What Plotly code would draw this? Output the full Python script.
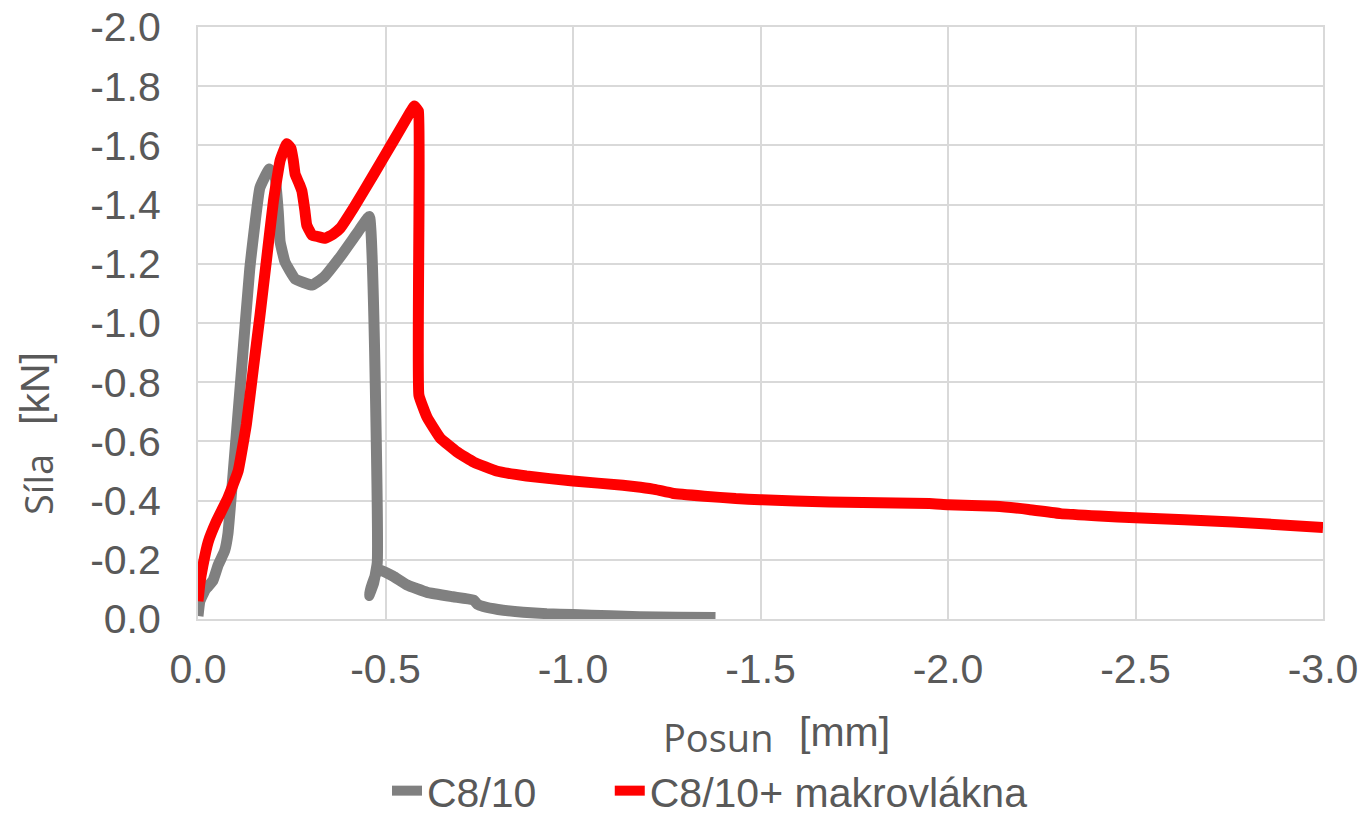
import plotly.graph_objects as go

# ---- data ----
c810_x = [0.0, -0.005, -0.02, -0.04, -0.054, -0.071, -0.08, -0.094, -0.116, -0.138, -0.165,
          -0.19, -0.205, -0.214, -0.219, -0.232, -0.259, -0.304, -0.335, -0.379, -0.424,
          -0.457, -0.478, -0.468, -0.456, -0.465, -0.478, -0.487, -0.52, -0.558, -0.611,
          -0.68, -0.735, -0.745, -0.761, -0.80, -0.867, -0.93, -1.0, -1.1, -1.177, -1.28, -1.38]
c810_y = [-0.01, -0.06, -0.10, -0.13, -0.183, -0.23, -0.29, -0.497, -0.84, -1.183, -1.457,
          -1.52, -1.497, -1.377, -1.274, -1.206, -1.149, -1.128, -1.154, -1.223, -1.303,
          -1.36, -0.19, -0.12, -0.08, -0.12, -0.16, -0.165, -0.145, -0.115, -0.09,
          -0.075, -0.064, -0.05, -0.042, -0.032, -0.023, -0.018, -0.015, -0.011, -0.008, -0.006, -0.005]

mak_x = [0.0, -0.005, -0.013, -0.027, -0.049, -0.08, -0.107, -0.129, -0.147, -0.165, -0.183,
         -0.201, -0.219, -0.237, -0.248, -0.254, -0.259, -0.27, -0.277, -0.285, -0.29, -0.304,
         -0.32, -0.339, -0.36, -0.379, -0.415, -0.469, -0.522, -0.565, -0.577, -0.588, -0.589,
         -0.611, -0.646, -0.69, -0.735, -0.796, -0.876, -1.0, -1.133, -1.18, -1.221, -1.265,
         -1.35, -1.434, -1.5, -1.684, -1.95, -2.0, -2.127, -2.215, -2.30, -2.404, -2.5, -2.76, -3.0]
mak_y = [-0.06, -0.12, -0.18, -0.26, -0.33, -0.41, -0.50, -0.657, -0.84, -1.023, -1.217,
         -1.411, -1.549, -1.606, -1.59, -1.55, -1.503, -1.47, -1.446, -1.38, -1.331, -1.297,
         -1.292, -1.286, -1.30, -1.32, -1.389, -1.503, -1.617, -1.71, -1.733, -1.715, -0.757,
         -0.681, -0.611, -0.565, -0.53, -0.50, -0.483, -0.466, -0.452, -0.445, -0.437, -0.425,
         -0.415, -0.407, -0.403, -0.395, -0.39, -0.386, -0.381, -0.37, -0.356, -0.348, -0.342, -0.328, -0.309]

x_tick_vals = [0.0, -0.5, -1.0, -1.5, -2.0, -2.5, -3.0]
x_tick_text = ["0.0", "-0.5", "-1.0", "-1.5", "-2.0", "-2.5", "-3.0"]
y_tick_vals = [0.0, -0.2, -0.4, -0.6, -0.8, -1.0, -1.2, -1.4, -1.6, -1.8, -2.0]
y_tick_text = ["0.0", "-0.2", "-0.4", "-0.6", "-0.8", "-1.0", "-1.2", "-1.4", "-1.6", "-1.8", "-2.0"]

series_names = ["C8/10" + "\u00a0" * 6, "C8/10+ makrovlákna"]

TXT = "#595959"
GRID = "#d9d9d9"
TICKFONT = dict(family="Liberation Sans, Arial, sans-serif", size=41, color=TXT)

W, H = 1365, 816
L, T = 198, 27
R = W - 1323
B = H - 619
PW, PH = W - L - R, H - T - B


def px(page_x):
    return (page_x - L) / PW


def py(page_y):
    return (H - B - page_y) / PH


fig = go.Figure()
fig.add_trace(go.Scatter(x=c810_x, y=c810_y, mode="lines", name=series_names[0],
                         line=dict(color="#808080", width=11, shape="spline", smoothing=0.3)))
fig.add_trace(go.Scatter(x=mak_x, y=mak_y, mode="lines", name=series_names[1],
                         line=dict(color="#ff0000", width=11, shape="spline", smoothing=0.3)))

fig.update_layout(
    width=W, height=H,
    margin=dict(l=L, r=R, t=T, b=B, autoexpand=False),
    paper_bgcolor="white", plot_bgcolor="white",
    showlegend=True,
    legend=dict(orientation="h", x=px(387), y=py(791), xanchor="left", yanchor="middle",
                font=TICKFONT, bgcolor="rgba(0,0,0,0)", itemwidth=30, tracegroupgap=0),
    xaxis=dict(range=[0, -3.0], tickvals=x_tick_vals, ticktext=x_tick_text,
               tickfont=TICKFONT, showgrid=True, gridcolor=GRID, gridwidth=2,
               zeroline=False, showline=True, linecolor=GRID, linewidth=2, mirror=True,
               automargin=False, ticklabeloverflow="allow",
               ticks="outside", ticklen=0, tickcolor="rgba(0,0,0,0)", ticklabelstandoff=13),
    yaxis=dict(range=[0, -2.0], tickvals=y_tick_vals, ticktext=y_tick_text,
               tickfont=TICKFONT, showgrid=True, gridcolor=GRID, gridwidth=2,
               zeroline=False, showline=True, linecolor=GRID, linewidth=2, mirror=True,
               automargin=False, ticklabeloverflow="allow",
               ticks="outside", ticklen=0, tickcolor="rgba(0,0,0,0)", ticklabelstandoff=27),
    annotations=[
        dict(text="Posun", xref="paper", yref="paper", x=px(718), y=py(737),
             showarrow=False, xanchor="center", yanchor="middle",
             font=dict(family="Open Sans", size=38, color=TXT)),
        dict(text="[mm]", xref="paper", yref="paper", x=px(844), y=py(732),
             showarrow=False, xanchor="center", yanchor="middle",
             font=dict(family="Liberation Sans", size=41, color=TXT)),
        dict(text="Síla", xref="paper", yref="paper", x=px(38), y=py(485),
             showarrow=False, xanchor="center", yanchor="middle", textangle=-90,
             font=dict(family="Open Sans", size=38, color=TXT)),
        dict(text="[kN]", xref="paper", yref="paper", x=px(35), y=py(389),
             showarrow=False, xanchor="center", yanchor="middle", textangle=-90,
             font=dict(family="Liberation Sans", size=41, color=TXT)),
    ],
)

fig.write_html("out.html", config={"displayModeBar": False},
               post_script="document.body.style.margin='0';document.body.style.overflow='hidden';")
